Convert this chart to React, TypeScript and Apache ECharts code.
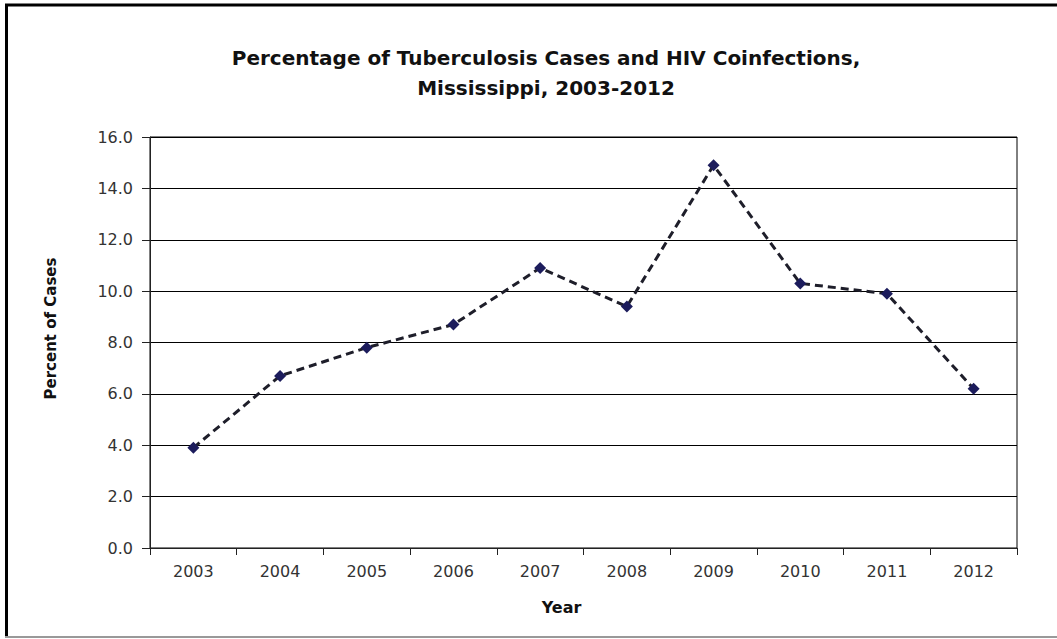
import React, { useEffect, useRef } from "react";
import * as echarts from "echarts";

const years = ["2003", "2004", "2005", "2006", "2007", "2008", "2009", "2010", "2011", "2012"];
const percentCoinfected = [3.9, 6.7, 7.8, 8.7, 10.9, 9.4, 14.9, 10.3, 9.9, 6.2];
const titleLines = ["Percentage of Tuberculosis Cases and HIV Coinfections,", "Mississippi, 2003-2012"];

const FONT = "'DejaVu Sans', sans-serif";

export default function App() {
  const ref = useRef<HTMLDivElement>(null);
  useEffect(() => {
    document.body.style.margin = "0";
    const chart = echarts.init(ref.current!, null, { renderer: "svg" });
    chart.setOption({
      animation: false,
      backgroundColor: "#fff",
      title: {
        text: titleLines.join("\n"),
        left: 541,
        textAlign: "center",
        top: 38,
        textStyle: { fontFamily: FONT, fontSize: 20, fontWeight: "bold", color: "#111", lineHeight: 30 },
      },
      grid: { left: 150, right: 40, top: 137, bottom: 91, show: true, borderColor: "#000", borderWidth: 1 },
      xAxis: {
        type: "category",
        data: years,
        boundaryGap: true,
        name: "Year",
        nameLocation: "middle",
        nameGap: 51,
        nameTextStyle: { fontFamily: FONT, fontSize: 16, fontWeight: "bold", color: "#111", padding: [0, 44, 0, 0] },
        axisLine: { lineStyle: { color: "#222", width: 1 } },
        axisTick: { show: true, alignWithLabel: false, length: 7, lineStyle: { color: "#222" } },
        axisLabel: { fontFamily: FONT, fontSize: 16, color: "#333", margin: 15 },
        splitLine: { show: false },
      },
      yAxis: {
        type: "value",
        min: 0,
        max: 16,
        interval: 2,
        name: "Percent of Cases",
        nameLocation: "middle",
        nameGap: 92,
        nameRotate: 90,
        nameTextStyle: { fontFamily: FONT, fontSize: 15, fontWeight: "bold", color: "#111", padding: [0, 0, 0, 28] },
        axisLine: { show: true, lineStyle: { color: "#222", width: 1 } },
        axisTick: { show: true, length: 8, lineStyle: { color: "#222" } },
        axisLabel: { fontFamily: FONT, fontSize: 16, color: "#333", margin: 17, formatter: (v: number) => v.toFixed(1) },
        splitLine: { show: true, lineStyle: { color: "#000", width: 1 } },
      },
      series: [
        {
          type: "line",
          data: percentCoinfected,
          symbol: "diamond",
          symbolSize: 12,
          itemStyle: { color: "#1c1c5c" },
          lineStyle: { color: "#1e1e2a", width: 3, type: [8, 5] },
        },
      ],
      graphic: [
        { type: "line", shape: { x1: 5, y1: 5, x2: 1057, y2: 5 }, style: { stroke: "#000", lineWidth: 3 } },
        { type: "line", shape: { x1: 6.5, y1: 4, x2: 6.5, y2: 638 }, style: { stroke: "#000", lineWidth: 3 } },
        { type: "line", shape: { x1: 5, y1: 637, x2: 1057, y2: 637 }, style: { stroke: "#999", lineWidth: 2 } },
      ],
    });
    return () => chart.dispose();
  }, []);
  return <div ref={ref} style={{ position: "absolute", left: 0, top: 0, width: 1057, height: 639 }} />;
}
